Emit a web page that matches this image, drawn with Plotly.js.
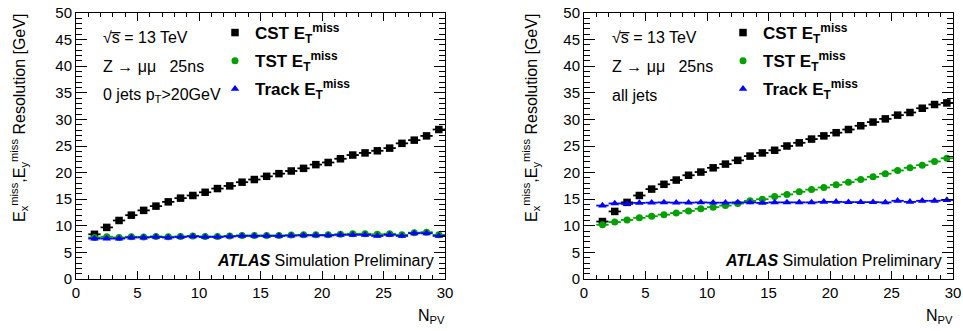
<!DOCTYPE html>
<html>
<head>
<meta charset="utf-8">
<script src="https://cdn.plot.ly/plotly-3.0.1.min.js"></script>
<style>
html,body{margin:0;padding:0;background:#fff;}
#chart{width:963px;height:331px;}
</style>
</head>
<body>
<div id="chart"></div>
<script>
// Bin centres (N_PV)
const npv = [1.5,2.5,3.5,4.5,5.5,6.5,7.5,8.5,9.5,10.5,11.5,12.5,13.5,14.5,15.5,16.5,17.5,18.5,19.5,20.5,21.5,22.5,23.5,24.5,25.5,26.5,27.5,28.5,29.5];
const binHalfWidth = [0.5,0.5,0.5,0.5,0.5,0.5,0.5,0.5,0.5,0.5,0.5,0.5,0.5,0.5,0.5,0.5,0.5,0.5,0.5,0.5,0.5,0.5,0.5,0.5,0.5,0.5,0.5,0.5,0.5];

// Left panel: 0 jets pT>20 GeV
const cst0 = [8.4,9.7,11.0,12.0,12.9,13.7,14.5,15.2,15.7,16.3,17.0,17.5,18.2,18.7,19.3,19.8,20.3,20.8,21.5,21.9,22.6,23.3,23.7,24.1,24.6,25.5,26.1,26.9,28.1];
const tst0 = [7.8,7.95,7.8,7.95,7.9,8.0,7.95,8.0,8.1,8.0,8.0,8.1,8.2,8.2,8.2,8.2,8.25,8.3,8.3,8.3,8.4,8.5,8.5,8.4,8.5,8.3,8.7,8.8,8.3];
const trk0 = [7.6,7.6,7.6,7.8,7.8,7.9,7.8,7.9,8.0,7.9,7.9,8.0,8.1,8.1,8.1,8.1,8.15,8.2,8.2,8.2,8.3,8.3,8.3,8.1,8.3,8.1,8.6,8.6,8.1];

// Right panel: all jets
const cstAll = [10.8,12.7,14.4,15.7,16.9,17.8,18.6,19.5,20.1,20.9,21.6,22.3,23.1,23.7,24.2,25.0,25.6,26.3,26.9,27.5,28.1,28.8,29.5,30.1,30.8,31.3,32.1,32.8,33.1];
const tstAll = [10.2,10.7,11.1,11.5,11.8,12.1,12.4,12.8,13.2,13.5,13.8,14.2,14.7,15.0,15.5,15.9,16.4,16.8,17.2,17.7,18.2,18.7,19.2,19.8,20.4,20.9,21.4,22.1,22.7];
const trkAll = [13.8,14.2,14.1,14.3,14.35,14.4,14.35,14.35,14.4,14.35,14.35,14.4,14.4,14.3,14.4,14.4,14.4,14.4,14.5,14.5,14.45,14.45,14.45,14.4,14.7,14.5,14.7,14.7,14.85];

const seriesNames = ['CST E<sub>T</sub><sup>miss</sup>','TST E<sub>T</sub><sup>miss</sup>','Track E<sub>T</sub><sup>miss</sup>'];
const seriesColors = ['#000000','#00a000','#0000ff'];
const seriesSymbols = ['square','circle','triangle-up'];
const seriesSizes = [7.5, 7, 7.5];

function mk(y, i, xa, ya, leg){
  return {
    x: npv, y: y, xaxis: xa, yaxis: ya, type:'scatter', mode:'markers',
    name: seriesNames[i], legend: leg, legendgroup: leg+'g'+i,
    marker:{symbol: seriesSymbols[i], color: seriesColors[i], size: seriesSizes[i]},
    error_x:{type:'data', array: binHalfWidth, visible:true, color: seriesColors[i], thickness:1.8, width:0},
    cliponaxis:false
  };
}

const data = [
  mk(cst0,0,'x','y','legend'), mk(tst0,1,'x','y','legend'), mk(trk0,2,'x','y','legend'),
  mk(cstAll,0,'x2','y2','legend2'), mk(tstAll,1,'x2','y2','legend2'), mk(trkAll,2,'x2','y2','legend2')
];

const W = 963;
const FONT = 'Liberation Sans, Arial, Helvetica, sans-serif';

function xax(d0,d1,anchor){
  return {domain:[d0,d1], anchor:anchor, range:[0,30], dtick:5, tick0:0,
    ticks:'inside', ticklen:8, tickwidth:1, tickcolor:'#000',
    minor:{dtick:1, ticks:'inside', ticklen:4, tickwidth:1, tickcolor:'#000', showgrid:false},
    showline:true, linecolor:'#000', linewidth:1, mirror:'allticks',
    showgrid:false, zeroline:false, tickfont:{family:FONT,size:15,color:'#000'}};
}
function yax(anchor){
  return {domain:[0,1], anchor:anchor, range:[0,50], dtick:5, tick0:0,
    ticks:'inside', ticklen:11, tickwidth:1, tickcolor:'#000',
    minor:{dtick:1, ticks:'inside', ticklen:6, tickwidth:1, tickcolor:'#000', showgrid:false},
    showline:true, linecolor:'#000', linewidth:1, mirror:'allticks',
    showgrid:false, zeroline:false, tickfont:{family:FONT,size:15,color:'#000'}};
}

function px(p){ return p / W; }
const plotTop = 13, plotBot = 279, plotH = plotBot - plotTop;
function py(p){ return (plotBot - p) / plotH; }

const ann = [];
function txt(x, y, text, opts){
  ann.push(Object.assign({xref:'paper', yref:'paper', x:px(x), y:py(y), text:text, showarrow:false,
    xanchor:'left', yanchor:'middle', font:{family:FONT, size:16, color:'#000'}}, opts||{}));
}
const ytitle = 'E<sub>x</sub><sup>miss</sup>,E<sub>y</sub><sup>miss</sup> Resolution [GeV]';
const sqrts = '\u221As\u0305 = 13 TeV';
// Left panel texts
txt(19, 12, ytitle, {textangle:-90, xanchor:'center', yanchor:'top'});
txt(447, 316, 'N<sub>PV</sub>', {xanchor:'right'});
txt(101, 37, sqrts);
txt(101, 66, 'Z \u2192 \u03BC\u03BC \u00A0 25ns');
txt(101, 95, '0 jets p<sub>T</sub>>20GeV');
txt(436, 260, '<b><i>ATLAS</i></b> Simulation Preliminary', {xanchor:'right'});
// Right panel texts
txt(531, 12, ytitle, {textangle:-90, xanchor:'center', yanchor:'top'});
txt(955, 316, 'N<sub>PV</sub>', {xanchor:'right'});
txt(610, 37, sqrts);
txt(610, 66, 'Z \u2192 \u03BC\u03BC \u00A0 25ns');
txt(610, 95, 'all jets');
txt(944, 260, '<b><i>ATLAS</i></b> Simulation Preliminary', {xanchor:'right'});

const legFont = {family:FONT, size:17, color:'#000', weight:'bold'};
const layout = {
  width: 963, height: 331,
  margin:{l:0, r:0, t:plotTop, b:331-plotBot, pad:0},
  paper_bgcolor:'#fff', plot_bgcolor:'#fff',
  font:{family:FONT, color:'#000'},
  showlegend:true,
  xaxis: xax(px(76), px(445), 'y'),
  yaxis: yax('x'),
  xaxis2: xax(px(584), px(953), 'y2'),
  yaxis2: yax('x2'),
  legend:{x:px(215), y:py(15), xanchor:'left', yanchor:'top', bgcolor:'rgba(0,0,0,0)', borderwidth:0,
    font:legFont, tracegroupgap:3, itemclick:false},
  legend2:{x:px(723), y:py(15), xanchor:'left', yanchor:'top', bgcolor:'rgba(0,0,0,0)', borderwidth:0,
    font:legFont, tracegroupgap:3, itemclick:false},
  annotations: ann
};

Plotly.newPlot('chart', data, layout, {staticPlot:true, displayModeBar:false});
</script>
</body>
</html>
